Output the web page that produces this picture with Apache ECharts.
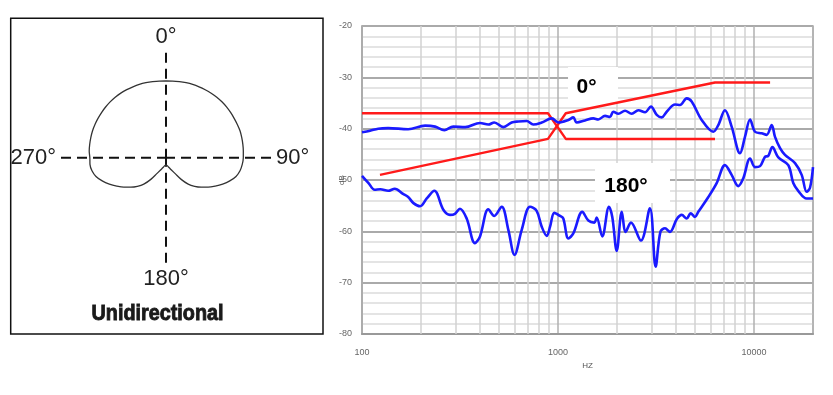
<!DOCTYPE html>
<html><head><meta charset="utf-8">
<script src="https://cdn.jsdelivr.net/npm/echarts@6/dist/echarts.min.js"></script>
<style>html,body{margin:0;padding:0;background:#fff}#c{width:833px;height:395px}</style>
</head><body><div id="c"></div>
<script>
// ---- Left: polar pattern (relative sensitivity, 0deg = 1.0) ----
const polarAngles = [0,5,10,15,20,25,30,35,40,45,50,55,60,65,70,75,80,85,90,95,100,105,110,115,120,125,130,135,140,145,150,155,160,165,170,175,180,
  185,190,195,200,205,210,215,220,225,230,235,240,245,250,255,260,265,270,275,280,285,290,295,300,305,310,315,320,325,330,335,340,345,350,355,360];
const polarGain = [1.000,1.003,1.007,1.012,1.017,1.020,1.023,1.027,1.030,1.031,1.030,1.028,1.026,1.026,1.027,1.022,1.017,1.012,1.008,0.998,0.980,0.945,0.885,0.815,0.741,0.670,0.598,0.528,0.450,0.345,0.240,0.185,0.150,0.125,0.108,0.099,0.095,
  0.099,0.108,0.125,0.150,0.185,0.240,0.345,0.450,0.528,0.598,0.670,0.741,0.815,0.885,0.945,0.980,0.995,0.993,1.005,1.010,1.015,1.020,1.022,1.024,1.026,1.028,1.030,1.030,1.028,1.024,1.020,1.017,1.012,1.007,1.003,1.000];
const polarTitle = 'Unidirectional';

// ---- Right: frequency response ----
const freq0 = [100,110,121,136,172,210,236,263,292,336,400,441,473,526,580,627,692,748,826,929,1005,1130,1197,1246,1373,1514,1606,1738,1841,1915,2031,2198,2377,2570,2780,2980,3190,3383,3586,3956,4192,4536,4808,5408,6196,6574,7111,7690,8485,8994,9548,10120,10940,11610,12310,12800,13580,14390,16190,17510,18570,19310,20000];
const db0   = [-40.7,-40.4,-40.0,-39.9,-40.1,-39.4,-39.6,-40.3,-39.6,-39.7,-38.9,-39.2,-38.8,-39.7,-38.8,-38.6,-38.5,-39.2,-38.8,-38.0,-38.8,-38.3,-37.8,-38.8,-38.4,-38.0,-38.2,-37.5,-37.7,-36.7,-37.1,-36.5,-37.1,-36.4,-36.8,-35.7,-37.3,-37.8,-36.7,-35.3,-35.4,-34.1,-34.7,-38.3,-40.6,-39.3,-36.4,-39.6,-44.8,-41.6,-38.2,-40.6,-40.9,-41.2,-39.3,-41.6,-43.8,-45.1,-46.7,-49.0,-52.3,-51.5,-47.5];

const freq180 = [100,108,116,124,136,147,162,172,183,198,214,234,260,281,298,316,342,377,400,441,473,516,558,600,653,720,778,826,877,911,958,1024,1064,1130,1197,1330,1428,1532,1575,1682,1820,1892,1994,2115,2215,2357,2649,2944,3148,3330,3516,3724,4040,4280,4536,4752,5000,5198,5850,6450,7111,7690,8318,8810,9548,10120,10740,11380,11820,12410,13310,14960,15860,16810,18550,20000];
const db180   = [-49.2,-50.6,-51.9,-51.8,-52.1,-51.7,-52.7,-53.3,-54.5,-55.1,-53.6,-52.1,-55.8,-56.8,-56.6,-55.6,-57.5,-62.3,-61.0,-55.7,-57.0,-55.2,-59.7,-64.6,-59.7,-55.2,-56.0,-59.1,-60.9,-59.1,-56.4,-57.0,-57.5,-61.4,-60.4,-56.2,-57.9,-58.3,-57.3,-61.0,-55.2,-57.2,-63.8,-56.2,-60.1,-58.3,-61.8,-55.5,-66.9,-60.1,-59.4,-60.1,-57.6,-56.8,-57.5,-56.5,-57.2,-56.2,-53.3,-50.6,-47.1,-49.0,-51.2,-49.7,-45.8,-47.5,-47.3,-45.5,-45.3,-43.6,-45.6,-47.1,-50.6,-52.1,-53.6,-53.6];

const refAFreq = [100,889,1096,6324];
const refADb   = [-37,-37,-42,-42];
const refBFreq = [123.5,889,1096,6324,12080];
const refBDb   = [-49,-42,-37,-31,-31];

const minorFreqs = [200,300,400,500,600,700,800,900,2000,3000,4000,5000,6000,7000,8000,9000];
const majorFreqLabels = [100,1000,10000];

const tagTexts = ['0°','180°'];
const tagFreqs = [1509,2399];
const tagDb    = [-31.6,-50.6];

const zip = (a,b) => a.map((v,i)=>[v,b[i]]);

const chart = echarts.init(document.getElementById('c'), null, {renderer:'canvas'});
const font = "'Liberation Sans', Arial, sans-serif";

chart.setOption({
  animation:false,
  backgroundColor:'#fff',
  polar:{center:[166,157.7], radius:105},
  angleAxis:{type:'value', polarIndex:0, min:0, max:360, interval:90, startAngle:90, clockwise:true,
    axisLine:{show:false}, axisTick:{show:false},
    splitLine:{show:true, lineStyle:{color:'#111', width:2, type:[10,6]}},
    axisLabel:{show:true, margin:5, fontSize:22, color:'#222', fontFamily:font,
      formatter:v => v===360 ? '' : v+'°'}},
  radiusAxis:{type:'value', polarIndex:0, min:0, max:1.369,
    axisLine:{show:false}, axisTick:{show:false}, axisLabel:{show:false}, splitLine:{show:false}},
  grid:{left:362, right:20, top:26, bottom:61, show:true, borderColor:'#aaa', borderWidth:1.5},
  xAxis:{type:'log', logBase:10, min:100, max:20000,
    name:'HZ', nameLocation:'middle', nameGap:27, nameTextStyle:{fontSize:8, color:'#555', fontFamily:font},
    axisLine:{show:true, lineStyle:{color:'#999', width:2}}, axisTick:{show:false},
    axisLabel:{fontSize:9, color:'#666', margin:14, fontFamily:font,
      formatter:v => majorFreqLabels.includes(Math.round(v)) ? String(Math.round(v)) : ''},
    splitLine:{show:true, lineStyle:{color:'#b0b0b0', width:1.5}}},
  yAxis:{type:'value', min:-80, max:-20, interval:10,
    name:'dB', nameLocation:'middle', nameRotate:90, nameGap:16, nameMoveOverlap:false,
    nameTextStyle:{fontSize:8, color:'#555', fontFamily:font},
    axisLine:{show:true, lineStyle:{color:'#aaa', width:1.5}}, axisTick:{show:false},
    axisLabel:{fontSize:9, color:'#666', margin:10, fontFamily:font},
    splitLine:{show:true, lineStyle:{color:'#aaa', width:2}},
    minorTick:{show:false, splitNumber:5},
    minorSplitLine:{show:true, lineStyle:{color:'#dcdcdc', width:1.5}}},
  graphic:[
    {type:'rect', shape:{x:10.7, y:18.3, width:312.3, height:315.7}, style:{fill:null, stroke:'#111', lineWidth:1.5}, silent:true},
    {type:'text', x:157.5, y:314, scaleX:0.9, silent:true,
      style:{text:polarTitle, fill:'#1a1a1a', stroke:'#1a1a1a', lineWidth:0.9, fontSize:22, fontWeight:'bold', fontFamily:'Liberation Sans', textAlign:'center', textVerticalAlign:'middle'}}
  ],
  series:[
    {type:'line', coordinateSystem:'polar', polarIndex:0, data:zip(polarGain, polarAngles),
      smooth:0.3, symbol:'none', lineStyle:{color:'#333', width:1.3}, silent:true, z:3},
    {type:'line', xAxisIndex:0, yAxisIndex:0, data:[], silent:true, z:1,
      markLine:{silent:true, z:1, symbol:['none','none'], label:{show:false}, emphasis:{disabled:true},
        lineStyle:{color:'#d2d2d2', width:1.5, type:'solid'},
        data:minorFreqs.map(f=>({xAxis:f}))},
      markPoint:{silent:true, z:2, symbol:'rect', itemStyle:{color:'#fff'},
        label:{show:true, position:'inside', formatter:'{b}', fontSize:21, fontWeight:'bold', color:'#000', fontFamily:font},
        data:[
          {name:tagTexts[0], coord:[tagFreqs[0], tagDb[0]], symbolSize:[50,37], label:{offset:[-6.5,1.5]}},
          {name:tagTexts[1], coord:[tagFreqs[1], tagDb[1]], symbolSize:[75,40], label:{offset:[-6.5,2.8]}}
        ]}},
    {type:'line', data:zip(refAFreq, refADb), symbol:'none', lineStyle:{color:'#ff1a1a', width:2.4}, silent:true, z:3},
    {type:'line', data:zip(refBFreq, refBDb), symbol:'none', lineStyle:{color:'#ff1a1a', width:2.4}, silent:true, z:3},
    {type:'line', data:zip(freq0, db0), smooth:0.35, symbol:'none', lineStyle:{color:'#1a1aff', width:2.6}, silent:true, z:4},
    {type:'line', data:zip(freq180, db180), smooth:0.35, symbol:'none', lineStyle:{color:'#1a1aff', width:2.6}, silent:true, z:4}
  ]
});
</script></body></html>
